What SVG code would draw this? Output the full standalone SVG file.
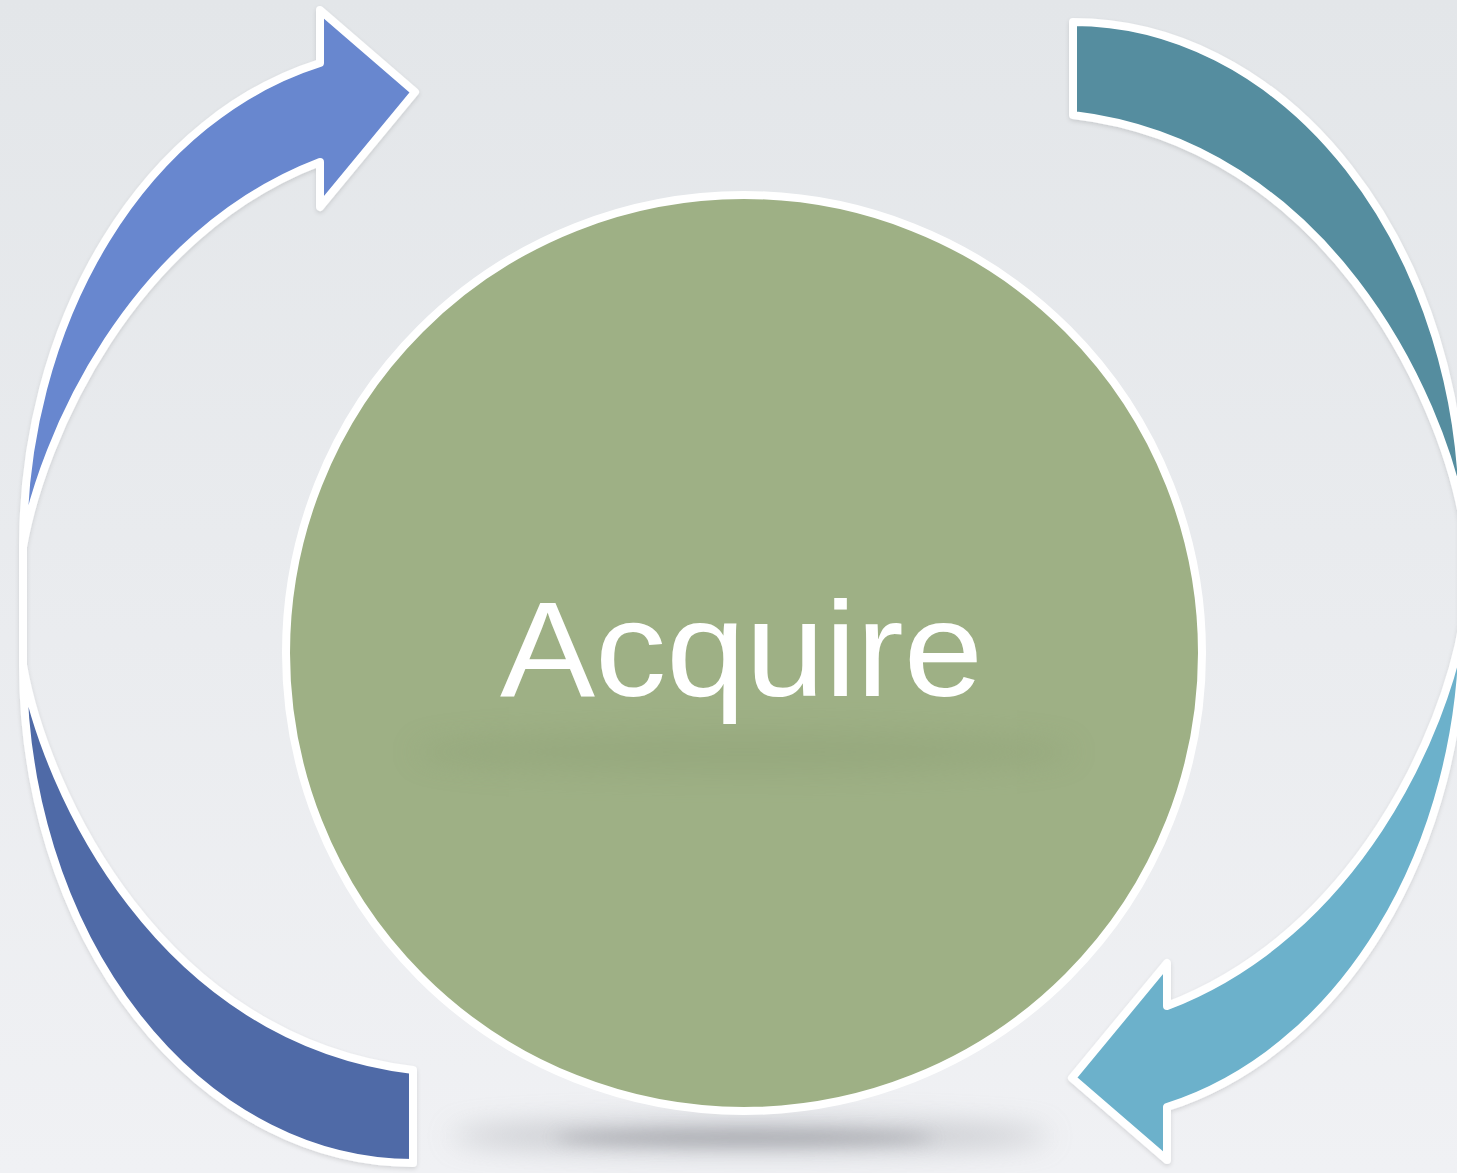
<svg xmlns="http://www.w3.org/2000/svg" width="1457" height="1173" viewBox="0 0 1457 1173">
  <defs>
    <linearGradient id="bg" x1="0" y1="0" x2="0" y2="1">
      <stop offset="0" stop-color="#e3e6e9"/>
      <stop offset="1" stop-color="#f0f1f4"/>
    </linearGradient>
    <filter id="soft" x="-5%" y="-5%" width="110%" height="110%">
      <feDropShadow dx="0" dy="2" stdDeviation="2" flood-color="#000" flood-opacity="0.12"/>
    </filter>
    <filter id="blurBig" x="-50%" y="-200%" width="200%" height="500%">
      <feGaussianBlur stdDeviation="14"/>
    </filter>
    <filter id="blurMid" x="-50%" y="-200%" width="200%" height="500%">
      <feGaussianBlur stdDeviation="8"/>
    </filter>
    <clipPath id="circleClip">
      <circle cx="744" cy="653" r="454"/>
    </clipPath>
    <style>
      .arrow { stroke: #ffffff; stroke-width: 8; stroke-linejoin: round; }
      .label { font-family: "Liberation Sans", Arial, sans-serif; font-size: 136px; fill: #ffffff; }
    </style>
  </defs>

  <rect x="0" y="0" width="1457" height="1173" fill="url(#bg)"/>

  <g id="connectors" filter="url(#soft)">
    <path id="arrow-top-left" class="arrow" fill="#6787cf"
          d="M 23,625 L 23,547 A 390 498 0 0 1 320,63 L 320,10 L 415,92 L 320,207 L 320,162 C 131,234 42,438.5 23,547 Z"/>
    <path id="band-bottom-left" class="arrow" fill="#4f6aa7"
          d="M 23,590 L 23,665 A 390 498 0 0 0 413,1163 L 413,1070 C 160,1040 45,790 23,665 Z"/>
    <path id="band-top-right" class="arrow" fill="#548d9f"
          d="M 1463,600 L 1463,520 A 390 498 0 0 0 1073,22 L 1073,115 C 1326,145 1441,395 1463,520 Z"/>
    <path id="arrow-bottom-right" class="arrow" fill="#6cb1cb"
          d="M 1463,560 L 1463,623 A 390 498 0 0 1 1167,1107 L 1167,1160 L 1072,1078 L 1167,963 L 1167,1006 C 1356,934 1445,731.5 1463,623 Z"/>
  </g>

  <g id="node-acquire">
    <ellipse cx="750" cy="1136" rx="300" ry="16" fill="#a6a8ae" opacity="0.55" filter="url(#blurBig)"/>
    <ellipse cx="744" cy="1138" rx="190" ry="7" fill="#8e9096" opacity="0.6" filter="url(#blurMid)"/>
    <circle cx="744" cy="653" r="458" fill="#9eb085" stroke="#ffffff" stroke-width="8"/>
    <g clip-path="url(#circleClip)">
      <ellipse cx="744" cy="752" rx="330" ry="22" fill="#8a9d72" opacity="0.35" filter="url(#blurBig)"/>
    </g>
    <text class="label" x="500" y="696" textLength="483" lengthAdjust="spacingAndGlyphs">Acquire</text>
  </g>
</svg>
